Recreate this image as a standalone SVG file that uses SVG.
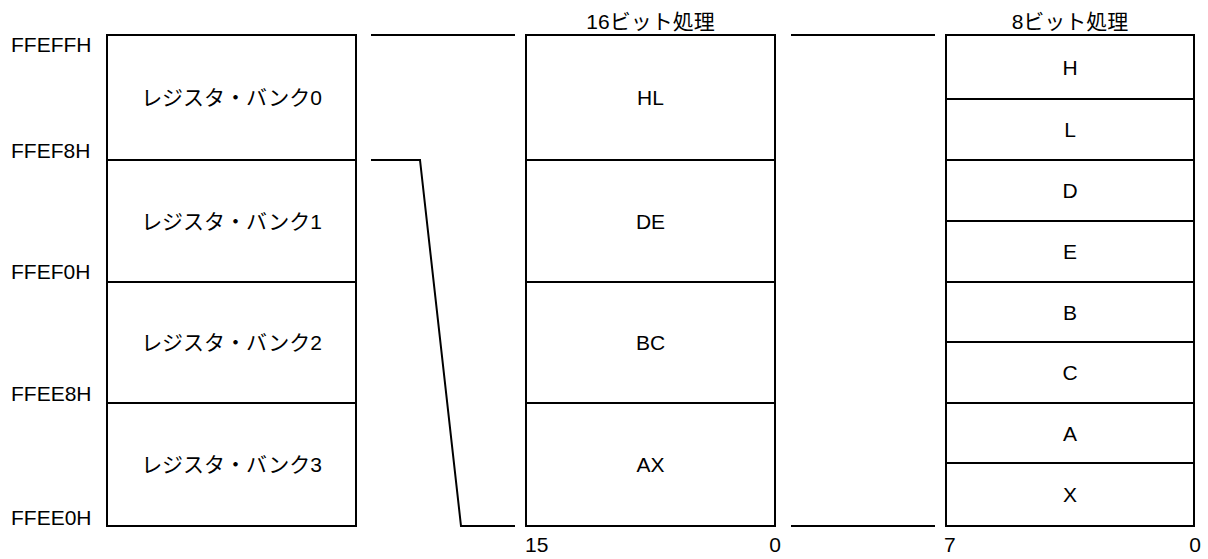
<svg xmlns="http://www.w3.org/2000/svg" width="1208" height="559" viewBox="0 0 1208 559">
<style>
.box{fill:#fff;stroke:#000;stroke-width:2}
.ln{fill:none;stroke:#000;stroke-width:2;stroke-linejoin:miter}
text{font-family:"Liberation Sans","Noto Sans CJK JP",Arial,sans-serif;font-size:21px;fill:#000}
.c{text-anchor:middle}
</style>
<rect width="1208" height="559" fill="#fff"/>
<g id="addresses">
<text x="11" y="52">FFEFFH</text>
<text x="11" y="158">FFEF8H</text>
<text x="11" y="279">FFEF0H</text>
<text x="11" y="401">FFEE8H</text>
<text x="11" y="525">FFEE0H</text>
</g>
<g id="bank0"><rect class="box" x="107" y="35" width="249" height="125"/><text class="c" x="231.5" y="105">レジスタ・バンク0</text></g>
<g id="bank1"><rect class="box" x="107" y="160" width="249" height="122"/><text class="c" x="231.5" y="229">レジスタ・バンク1</text></g>
<g id="bank2"><rect class="box" x="107" y="282" width="249" height="121"/><text class="c" x="231.5" y="350">レジスタ・バンク2</text></g>
<g id="bank3"><rect class="box" x="107" y="403" width="249" height="123"/><text class="c" x="231.5" y="472">レジスタ・バンク3</text></g>
<g id="connectors">
<polyline class="ln" points="371,35 515,35"/>
<polyline class="ln" points="371,160 420,160 461,526 515,526"/>
<polyline class="ln" points="791,35 935,35"/>
<polyline class="ln" points="791,526 935,526"/>
</g>
<g id="title16"><text class="c" x="650.5" y="29">16ビット処理</text></g>
<g id="reg-HL"><rect class="box" x="526" y="35" width="249" height="125"/><text class="c" x="650.5" y="105">HL</text></g>
<g id="reg-DE"><rect class="box" x="526" y="160" width="249" height="122"/><text class="c" x="650.5" y="229">DE</text></g>
<g id="reg-BC"><rect class="box" x="526" y="282" width="249" height="121"/><text class="c" x="650.5" y="350">BC</text></g>
<g id="reg-AX"><rect class="box" x="526" y="403" width="249" height="123"/><text class="c" x="650.5" y="472">AX</text></g>
<g id="bits16"><text x="525" y="552">15</text><text class="c" x="775" y="552">0</text></g>
<g id="title8"><text class="c" x="1070" y="29">8ビット処理</text></g>
<g id="reg-H"><rect class="box" x="946" y="35" width="248" height="64"/><text class="c" x="1070" y="75">H</text></g>
<g id="reg-L"><rect class="box" x="946" y="99" width="248" height="61"/><text class="c" x="1070" y="137">L</text></g>
<g id="reg-D"><rect class="box" x="946" y="160" width="248" height="61"/><text class="c" x="1070" y="198">D</text></g>
<g id="reg-E"><rect class="box" x="946" y="221" width="248" height="61"/><text class="c" x="1070" y="259">E</text></g>
<g id="reg-B"><rect class="box" x="946" y="282" width="248" height="60"/><text class="c" x="1070" y="320">B</text></g>
<g id="reg-C"><rect class="box" x="946" y="342" width="248" height="61"/><text class="c" x="1070" y="380">C</text></g>
<g id="reg-A"><rect class="box" x="946" y="403" width="248" height="60"/><text class="c" x="1070" y="441">A</text></g>
<g id="reg-X"><rect class="box" x="946" y="463" width="248" height="63"/><text class="c" x="1070" y="502">X</text></g>
<g id="bits8"><text x="944" y="552">7</text><text class="c" x="1195" y="552">0</text></g>
</svg>
